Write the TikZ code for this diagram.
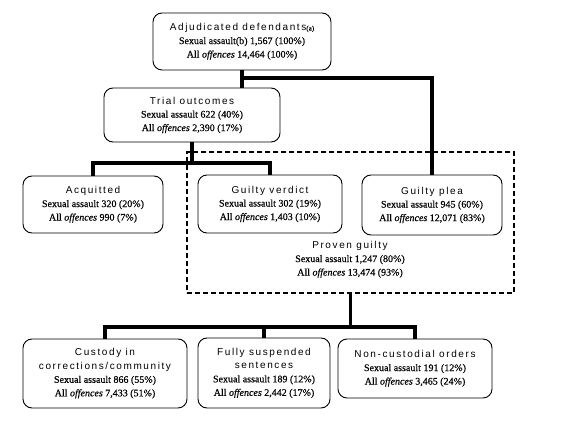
\documentclass[tikz,border=0pt]{standalone}
\usepackage{fontspec}
\setmainfont[FakeBold=0.35]{Liberation Serif}
\newfontfamily\headfont[LetterSpace=16]{Liberation Sans}
\newcommand{\hd}[1]{{\headfont\fontsize{10}{13.5}\selectfont #1}}
\newcommand{\sm}[1]{{\fontsize{7}{8}\selectfont #1}}
\tikzset{
  box/.style={draw, rounded corners=9pt, line width=0.9pt, align=center, inner sep=0pt,
    font=\fontsize{10}{13.5}\selectfont},
  plain/.style={align=center, inner sep=0pt, font=\fontsize{10}{13.5}\selectfont},
  dashbox/.style={draw, line width=1.8pt, dash pattern=on 5pt off 3pt, inner sep=0pt},
  conn/.style={line width=3.2pt}
}
\begin{document}
\begin{tikzpicture}[x=1pt,y=-1pt]
\useasboundingbox (0,0) rectangle (586,422);
\node[dashbox, minimum width=327pt, minimum height=141pt] (pgbox) at (350.5,222.5) {};
\node[box, minimum width=178pt, minimum height=57pt] (adj) at (242,41.5)
  {\hd{Adjudicated defendants}\sm{(a)}\\ Sexual assault(b) 1,567 (100\%)\\ All \textit{offences} 14,464 (100\%)};
\node[box, minimum width=176pt, minimum height=54pt] (trial) at (192,115)
  {\hd{Trial outcomes}\\ Sexual assault 622 (40\%)\\ All \textit{offences} 2,390 (17\%)};
\node[box, minimum width=140pt, minimum height=57pt] (acq) at (93,204.5)
  {\hd{Acquitted}\\ Sexual assault 320 (20\%)\\ All \textit{offences} 990 (7\%)};
\node[box, minimum width=144pt, minimum height=58pt] (gv) at (270,204)
  {\hd{Guilty verdict}\\ Sexual assault 302 (19\%)\\ All \textit{offences} 1,403 (10\%)};
\node[box, minimum width=140pt, minimum height=60pt] (gp) at (432,205)
  {\hd{Guilty plea}\\ Sexual assault 945 (60\%)\\ All \textit{offences} 12,071 (83\%)};
\node[plain] (pg) at (350,259.5)
  {\hd{Proven guilty}\\ Sexual assault 1,247 (80\%)\\ All \textit{offences} 13,474 (93\%)};
\node[box, minimum width=164pt, minimum height=69pt] (cust) at (105,373.5)
  {\hd{Custody in}\\ \hd{corrections/community}\\ Sexual assault 866 (55\%)\\ All \textit{offences} 7,433 (51\%)};
\node[box, minimum width=132pt, minimum height=70pt] (fs) at (264,373)
  {\hd{Fully suspended}\\ \hd{sentences}\\ Sexual assault 189 (12\%)\\ All \textit{offences} 2,442 (17\%)};
\node[box, minimum width=154pt, minimum height=59pt] (nc) at (415,368.5)
  {\hd{Non-custodial orders}\\ Sexual assault 191 (12\%)\\ All \textit{offences} 3,465 (24\%)};
\coordinate (j1) at (242,78);
\coordinate (j2) at (192,163);
\coordinate (j3) at (350.5,327);
\draw[conn] (adj.south) -- (adj.south |- trial.north);
\draw[conn] (j1) -| (gp.north);
\draw[conn] (trial.south) -- (j2);
\draw[conn] (acq.north) |- (j2) -| (gv.north);
\draw[conn] (pgbox.south) -- (j3);
\draw[conn] (cust.north) |- (j3) -| (nc.north);
\draw[conn] (fs.north) -- (fs.north |- j3);
\end{tikzpicture}
\end{document}
